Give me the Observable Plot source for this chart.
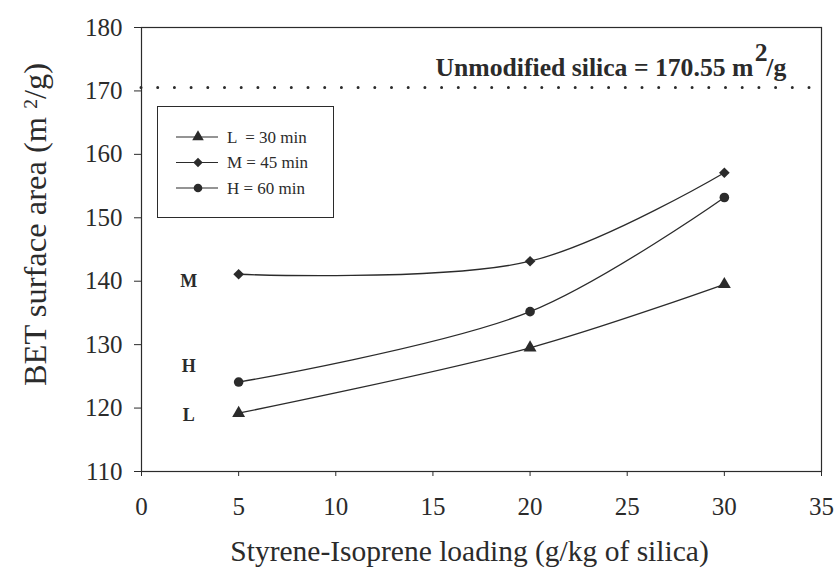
<!DOCTYPE html>
<html>
<head>
<meta charset="utf-8">
<script src="https://cdn.jsdelivr.net/npm/d3@7"></script>
<script src="https://cdn.jsdelivr.net/npm/@observablehq/plot@0.6"></script>
<style>
  html, body { margin: 0; padding: 0; background: #fff; }
  #chart { width: 834px; height: 577px; }
  #chart svg { display: block; }
</style>
</head>
<body>
<div id="chart"></div>
<script>
// Styrene-isoprene loading (g/kg of silica)
const loading = [5, 20, 30];

// BET surface area (m²/g) per reaction time
const seriesNames = ["L", "M", "H"];
const seriesLegend = ["L  = 30 min", "M = 45 min", "H = 60 min"];
const seriesSymbols = ["triangle", "diamond2", "circle"];
const areaL = [119.2, 129.5, 139.5];
const areaM = [141.1, 143.15, 157.1];
const areaH = [124.1, 135.2, 153.2];

// Reference value for the unmodified silica
const unmodified = 170.55;

// Axis ticks
const xTicks = [0, 5, 10, 15, 20, 25, 30, 35];
const yTicks = [110, 120, 130, 140, 150, 160, 170, 180];

// Series letters written beside the first point
const letterText = ["M", "H", "L"];
const letterX = [2.43, 2.43, 2.43];
const letterY = [140.0, 126.6, 118.9];

const ink = "#2b2b2b";
const serif = "'Liberation Serif', 'Times New Roman', serif";

const noteText = "Unmodified silica = 170.55 m";
const yTitle = "BET surface area (m ";
const xTitle = "Styrene-Isoprene loading (g/kg of silica)";

const seriesValues = { L: areaL, M: areaM, H: areaH };
const rows = seriesNames.flatMap((s, i) =>
  loading.map((x, j) => ({ series: s, symbol: seriesSymbols[i], x, y: seriesValues[s][j] }))
);
const letters = letterText.map((t, i) => ({ t, x: letterX[i], y: letterY[i] }));

const plot = Plot.plot({
  width: 834,
  height: 577,
  marginLeft: 141,
  marginRight: 13,
  marginTop: 27,
  marginBottom: 106,
  style: { fontFamily: serif, color: ink, background: "#fff", overflow: "visible" },
  x: { domain: [0, 35] },
  y: { domain: [110, 180] },
  symbol: { type: "identity" },
  marks: [
    Plot.frame({ stroke: ink, strokeWidth: 1.2 }),
    Plot.axisX({ ticks: xTicks, tickSize: 5, tickPadding: 21, fontSize: 25, label: null, stroke: ink, fill: ink }),
    Plot.axisY({ ticks: yTicks, tickSize: 7, tickPadding: 12, fontSize: 25, label: null, stroke: ink, fill: ink }),
    Plot.ruleY([unmodified], {
      stroke: ink, strokeWidth: 3, strokeDasharray: "0 16.7", strokeLinecap: "round"
    }),
    Plot.line(rows, { x: "x", y: "y", z: "series", curve: "catmull-rom", stroke: ink, strokeWidth: 1.3 }),
    Plot.dot(rows, { x: "x", y: "y", symbol: "symbol", r: 4.8, fill: ink, stroke: "none" }),
    Plot.text(letters, { x: "x", y: "y", text: "t", fontSize: 18, fontWeight: "bold", fill: ink }),
    Plot.text([noteText], {
      frameAnchor: "top-left", dx: 294, dy: 48, textAnchor: "start", lineAnchor: "bottom",
      fontSize: 25.7, fontWeight: "bold", fill: ink
    }),
    Plot.text([yTitle], {
      frameAnchor: "left", dx: -106, dy: -25, rotate: -90, textAnchor: "middle", lineAnchor: "middle",
      fontSize: 32.5, fill: ink
    }),
    Plot.text([xTitle], {
      frameAnchor: "bottom", dx: -12, dy: 80, textAnchor: "middle", lineAnchor: "middle",
      fontSize: 29.5, fill: ink
    })
  ]
});

document.getElementById("chart").appendChild(plot);

const svg = d3.select(plot);
const findText = (s) => svg.selectAll("text").filter(function () { return this.textContent === s; });

// Superscripts for the units m²/g
const note = findText(noteText);
note.append("tspan").attr("dy", "-0.55em").attr("dx", "0.05em").text("2");
note.append("tspan").attr("dy", "0.55em").attr("dx", "-0.05em").text("/g");

const yLab = findText(yTitle);
yLab.append("tspan").attr("dy", "-0.45em").attr("font-size", "0.6em").text("2");
yLab.append("tspan").attr("dy", "0.27em").text("/g)");

// Legend box inside the plot area
const legend = svg.append("g").attr("font-family", serif).attr("fill", ink).attr("text-anchor", "start");
legend.append("rect")
  .attr("x", 157.5).attr("y", 106.5).attr("width", 176).attr("height", 111)
  .attr("fill", "#fff").attr("stroke", ink).attr("stroke-width", 1);
const symbolMap = { triangle: d3.symbolTriangle, diamond2: d3.symbolDiamond2, circle: d3.symbolCircle };
seriesLegend.forEach((label, i) => {
  const yy = 137 + i * 25.5;
  legend.append("line")
    .attr("x1", 176).attr("x2", 218).attr("y1", yy).attr("y2", yy)
    .attr("stroke", ink).attr("stroke-width", 1.2);
  legend.append("path")
    .attr("transform", `translate(198,${yy})`)
    .attr("d", d3.symbol(symbolMap[seriesSymbols[i]], Math.PI * 4.3 * 4.3)());
  legend.append("text")
    .attr("x", 227).attr("y", yy).attr("dy", "0.33em")
    .attr("font-size", 17).attr("xml:space", "preserve").text(label);
});
</script>
</body>
</html>
